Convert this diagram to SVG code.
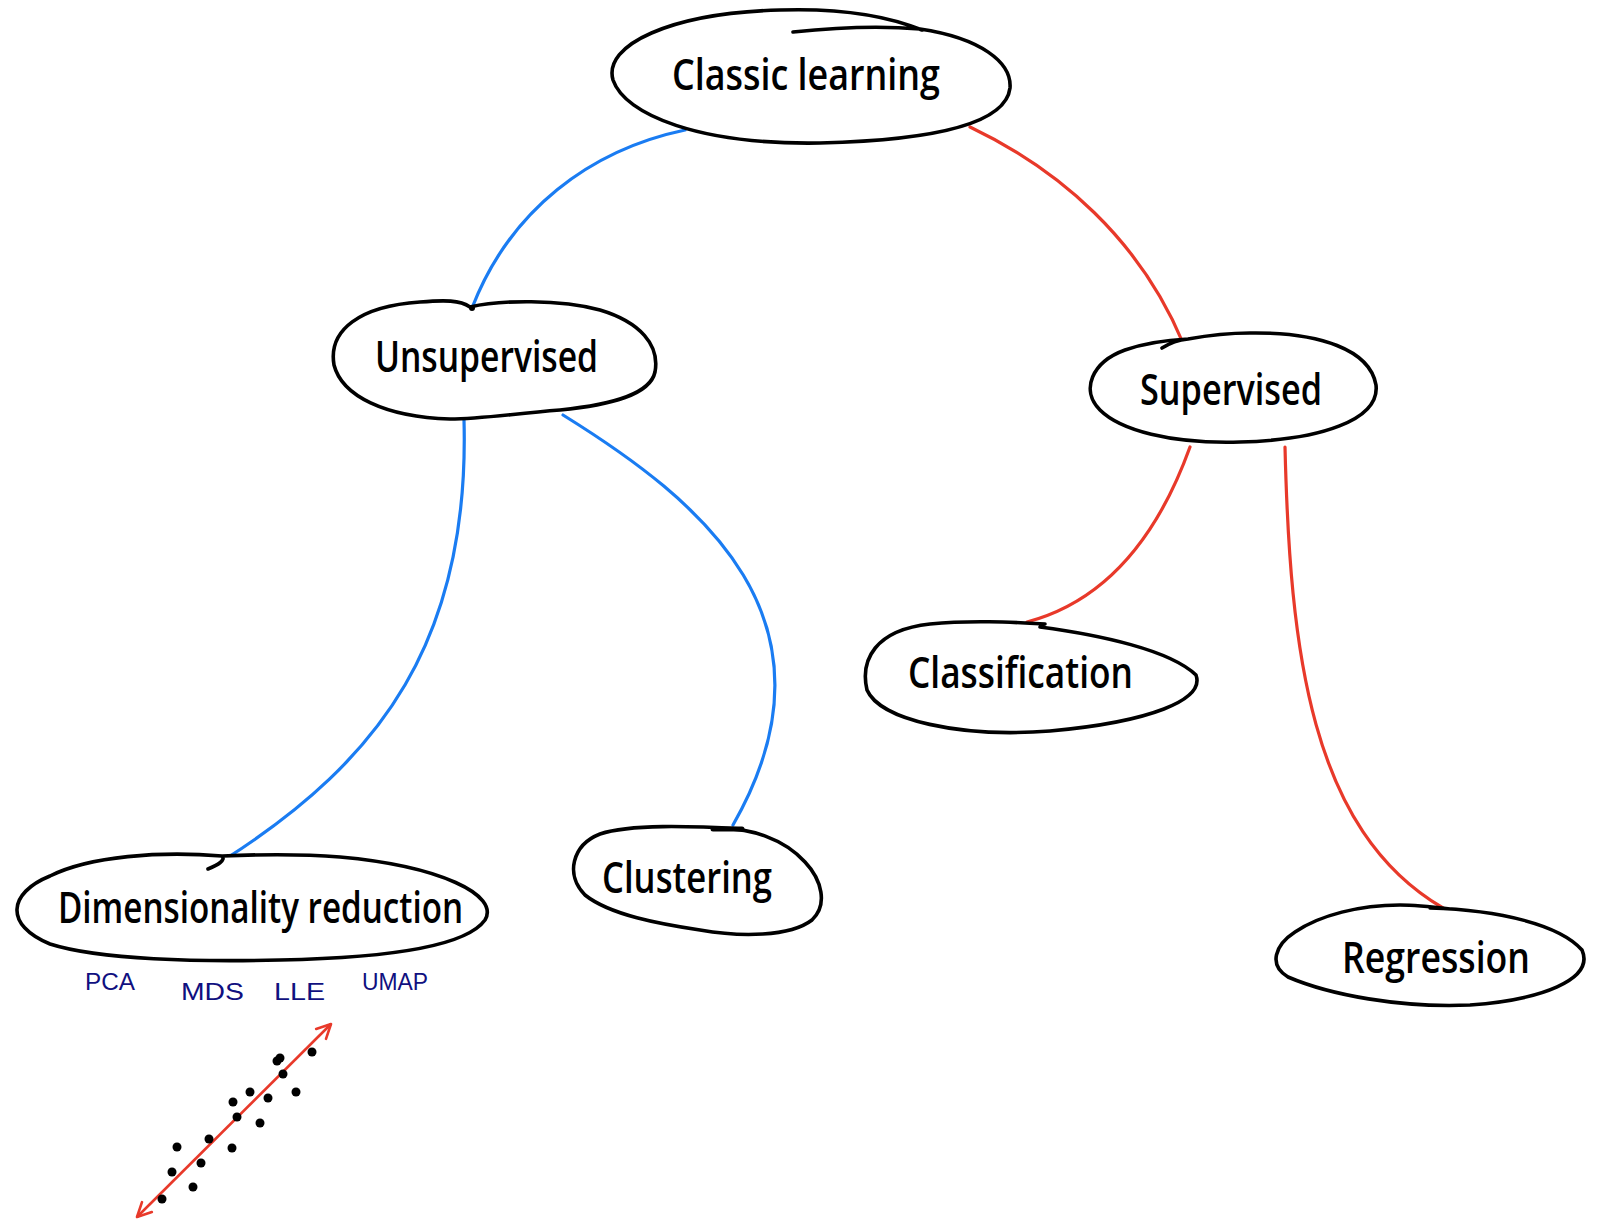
<svg xmlns="http://www.w3.org/2000/svg" width="1597" height="1228" viewBox="0 0 1597 1228">
<style>
.bg{fill:#ffffff}
.node path{fill:#ffffff;stroke:#000;stroke-width:3.6;stroke-linecap:round;stroke-linejoin:round}
.node text{font-family:"Open Sans","Liberation Sans","DejaVu Sans",sans-serif;font-weight:600;font-size:44px;fill:#000}
.blue{fill:none;stroke:#1a7cf2;stroke-width:3.2;stroke-linecap:round}
.red{fill:none;stroke:#e8392a;stroke-width:3.2;stroke-linecap:round}
.lbl{font-family:"Liberation Sans","DejaVu Sans",sans-serif;font-size:24px;fill:#101080}
.dot{fill:#000}
</style>
<defs>
<marker id="vh" viewBox="0 0 20 20" refX="18" refY="10" markerWidth="20" markerHeight="20" markerUnits="userSpaceOnUse" orient="auto-start-reverse">
<path d="M4,3 L18,10 L4,17" fill="none" stroke="#e8392a" stroke-width="2.6" stroke-linecap="round" stroke-linejoin="round"/>
</marker>
</defs>
<rect class="bg" x="0" y="0" width="1597" height="1228"/>
<g id="connectors">
<path class="blue" d="M685,130 C590,150 510,210 472,308"/>
<path class="red" d="M970,127 C1060,170 1140,240 1183,343"/>
<path class="blue" d="M464,420 C470,640 380,760 227,858"/>
<path class="blue" d="M563,415 C700,500 850,620 733,825"/>
<path class="red" d="M1190,447 C1160,530 1110,600 1027,622"/>
<path class="red" d="M1285,447 C1290,650 1310,830 1443,908"/>
</g>
<g id="classic-learning" class="node">
<path d="M793,32 C840,27 885,26 920,29 C980,38 1012,62 1010,88 C1006,122 940,140 820,143 C700,145 625,115 613,80 C603,45 670,13 780,10 C840,8 885,15 922,30"/>
<text x="672" y="90" textLength="268" lengthAdjust="spacingAndGlyphs">Classic learning</text>
</g>
<g id="unsupervised" class="node">
<path d="M470,307 C500,300 560,299 600,310 C640,322 660,345 655,372 C650,395 610,405 560,410 C510,414 480,419 450,419 C385,417 342,396 334,365 C328,330 360,306 420,302 C445,300 460,300 470,307 Z"/>
<circle cx="472" cy="308" r="3" fill="#000"/>
<text x="375" y="372" textLength="223" lengthAdjust="spacingAndGlyphs">Unsupervised</text>
</g>
<g id="supervised" class="node">
<path d="M1162,348 C1170,343 1178,340 1188,339 C1210,335 1230,333 1250,333 C1320,332 1370,350 1376,385 C1380,420 1320,440 1240,442 C1170,444 1120,430 1100,410 C1080,390 1092,362 1125,350 C1145,343 1168,340 1188,339"/>
<text x="1140" y="405" textLength="182" lengthAdjust="spacingAndGlyphs">Supervised</text>
</g>
<g id="classification" class="node">
<path d="M1040,627 C1100,635 1170,650 1196,675 C1205,700 1150,722 1050,731 C960,738 880,720 867,690 C860,660 875,630 930,624 C970,620 1010,622 1045,624"/>
<text x="908" y="688" textLength="225" lengthAdjust="spacingAndGlyphs">Classification</text>
</g>
<g id="dimensionality-reduction" class="node">
<path d="M208,869 C218,865 226,860 222,856 C160,851 90,856 50,876 C8,893 4,925 50,944 C100,960 200,962 280,960 C380,958 465,948 485,920 C500,895 440,866 340,857 C290,853 245,855 222,856"/>
<text x="58" y="923" textLength="405" lengthAdjust="spacingAndGlyphs">Dimensionality reduction</text>
</g>
<g id="clustering" class="node">
<path d="M713,829 C750,826 785,840 805,862 C822,880 828,905 812,920 C790,937 740,937 700,930 C660,924 610,915 585,895 C565,875 572,845 600,834 C630,824 690,826 742,829"/>
<path d="M713,829 L742,829" style="stroke-width:5"/>
<text x="602" y="893" textLength="170" lengthAdjust="spacingAndGlyphs">Clustering</text>
</g>
<g id="regression" class="node">
<path d="M1430,908 C1500,910 1560,925 1582,950 C1595,980 1540,1000 1470,1005 C1400,1008 1330,995 1288,977 C1268,965 1275,945 1295,932 C1320,915 1360,905 1400,905 C1415,905 1425,906 1450,909"/>
<text x="1342" y="973" textLength="188" lengthAdjust="spacingAndGlyphs">Regression</text>
</g>
<g id="method-labels">
<text class="lbl" x="85" y="990" textLength="50" lengthAdjust="spacingAndGlyphs">PCA</text>
<text class="lbl" x="181" y="1000" textLength="63" lengthAdjust="spacingAndGlyphs">MDS</text>
<text class="lbl" x="274" y="1000" textLength="51" lengthAdjust="spacingAndGlyphs">LLE</text>
<text class="lbl" x="362" y="990" textLength="66" lengthAdjust="spacingAndGlyphs">UMAP</text>
</g>
<g id="scatter">
<path d="M137,1217 L331,1024" fill="none" stroke="#e8392a" stroke-width="2.6" marker-start="url(#vh)" marker-end="url(#vh)"/>
<circle class="dot" cx="312" cy="1052" r="4.5"/>
<circle class="dot" cx="277" cy="1061" r="4.5"/>
<circle class="dot" cx="280" cy="1058" r="4.5"/>
<circle class="dot" cx="283" cy="1074" r="4.5"/>
<circle class="dot" cx="250" cy="1092" r="4.5"/>
<circle class="dot" cx="296" cy="1092" r="4.5"/>
<circle class="dot" cx="268" cy="1098" r="4.5"/>
<circle class="dot" cx="233" cy="1102" r="4.5"/>
<circle class="dot" cx="237" cy="1117" r="4.5"/>
<circle class="dot" cx="260" cy="1123" r="4.5"/>
<circle class="dot" cx="209" cy="1139" r="4.5"/>
<circle class="dot" cx="232" cy="1148" r="4.5"/>
<circle class="dot" cx="177" cy="1147" r="4.5"/>
<circle class="dot" cx="201" cy="1163" r="4.5"/>
<circle class="dot" cx="172" cy="1172" r="4.5"/>
<circle class="dot" cx="193" cy="1187" r="4.5"/>
<circle class="dot" cx="162" cy="1199" r="4.5"/>
</g>
</svg>
